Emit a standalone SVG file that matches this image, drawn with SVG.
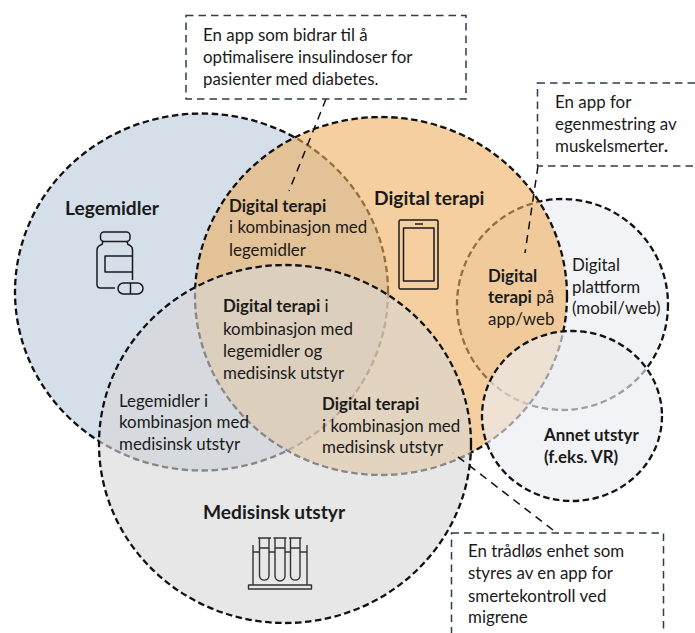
<svg xmlns="http://www.w3.org/2000/svg" width="695" height="633" viewBox="0 0 695 633">
<style>
text{font-family:"Lato","Carlito","Liberation Sans",sans-serif;font-size:16.9px;fill:#1a1a1a}
.b{font-weight:700}
.h{font-weight:700;font-size:19.2px}
.c{stroke:#111;stroke-width:2.3;stroke-dasharray:6.5 3.5}
.box{fill:none;stroke:#2e3d50;stroke-width:1.5;stroke-dasharray:7.5 5}
.ln{fill:none;stroke:#111;stroke-width:1.5;stroke-dasharray:8 6}
.i{fill:none;stroke:#1a1a1a;stroke-width:1.5;stroke-linejoin:round}
.r{fill:none;stroke:#333;stroke-width:1.4;stroke-linejoin:round}
</style>
<rect width="695" height="633" fill="#fff"/>
<g id="node-legemidler">
<ellipse class="c" cx="201.500" cy="292" rx="186.500" ry="178.500" fill="#d5dfea"/>
<text class="h" x="65" y="215">Legemidler</text>
<g class="i">
<rect x="100.500" y="232" width="29.500" height="9.500" rx="3.500"/>
<path d="M115 288H100.500Q97 288 97 284.500V250Q97 246 102 244.500L103 241.500M127 241.500L128 244.500Q132.500 246 132.500 250V280"/>
<path d="M132.500 256H105V272H132.500"/>
<rect x="118" y="283" width="25" height="11" rx="5.500"/>
<path d="M130.500 283V294"/>
</g>
</g>
<g id="node-digital-plattform">
<circle class="c" cx="562.500" cy="304.500" r="105.500" fill="#f2f3f6"/>
<text x="572" y="271">Digital</text>
<text x="572" y="293">plattform</text>
<text x="572" y="314">(mobil/web)</text>
</g>
<g id="node-digital-terapi">
<ellipse class="c" cx="381" cy="296" rx="186" ry="179" fill="rgb(238,175,95)" fill-opacity=".6"/>
<text class="h" x="374" y="205">Digital terapi</text>
<g class="i">
<rect x="399" y="220" width="39" height="69" rx="1.500"/>
<rect x="403.500" y="228" width="30.500" height="53"/>
<path d="M415 224H423"/>
</g>
</g>
<g id="node-medisinsk-utstyr">
<ellipse class="c" cx="285" cy="444" rx="186" ry="179" fill="rgb(215,215,215)" fill-opacity=".6"/>
<text class="h" x="203" y="519">Medisinsk utstyr</text>
<g class="r">
<rect x="248.500" y="585" width="63" height="4" fill="#e7e7e7"/>
<path d="M253 585V545M307 585V545M253 552H259M269 552H275M285 552H290M300 552H307"/>
<path d="M259.500 538V576A4.800 4.800 0 0 0 269 576V538M275 538V576A4.800 4.800 0 0 0 285 576V538M290.500 538V576A4.800 4.800 0 0 0 300 576V538"/>
<path d="M258 538H271M273.500 538H286.500M289 538H301.500M259.500 548H269M275 548H285M290.500 548H300"/>
</g>
</g>
<g id="node-annet-utstyr">
<ellipse class="c" cx="572" cy="416" rx="90" ry="85" fill="rgb(235,237,241)" fill-opacity=".65"/>
<text class="b" x="544" y="441">Annet utstyr</text>
<text class="b" x="544" y="463">(f.eks. VR)</text>
</g>
<g id="node-dt-legemidler">
<text class="b" x="229" y="212">Digital terapi</text>
<text x="229" y="233">i kombinasjon med</text>
<text x="229" y="256">legemidler</text>
</g>
<g id="node-dt-alle">
<text x="223" y="312"><tspan class="b">Digital terapi</tspan> i</text>
<text x="223" y="335">kombinasjon med</text>
<text x="223" y="357">legemidler og</text>
<text x="223" y="379">medisinsk utstyr</text>
</g>
<g id="node-legemidler-utstyr">
<text x="119" y="407">Legemidler i</text>
<text x="119" y="428">kombinasjon med</text>
<text x="119" y="450">medisinsk utstyr</text>
</g>
<g id="node-dt-utstyr">
<text class="b" x="322" y="410">Digital terapi</text>
<text x="322" y="432">i kombinasjon med</text>
<text x="322" y="453">medisinsk utstyr</text>
</g>
<g id="node-dt-app">
<text class="b" x="488" y="282">Digital</text>
<text x="488" y="303"><tspan class="b">terapi</tspan> på</text>
<text x="488" y="325">app/web</text>
</g>
<g id="connectors">
<path class="ln" d="M326 99L289 191"/>
<path class="ln" d="M538 166L525 253"/>
<path class="ln" d="M553 530L453 453"/>
</g>
<g id="note-insulin">
<rect class="box" x="186" y="15.500" width="280" height="83.500"/>
<text x="203" y="41">En app som bidrar til å</text>
<text x="203" y="63">optimalisere insulindoser for</text>
<text x="203" y="85">pasienter med diabetes.</text>
</g>
<g id="note-muskel">
<rect class="box" x="537.500" y="83" width="180" height="83"/>
<text x="555" y="108">En app for</text>
<text x="555" y="130">egenmestring av</text>
<text x="555" y="152">muskelsmerter<tspan class="b">.</tspan></text>
</g>
<g id="note-migrene">
<rect class="box" x="451.500" y="533" width="212" height="120"/>
<text x="468" y="557">En trådløs enhet som</text>
<text x="468" y="579">styres av en app for</text>
<text x="468" y="602">smertekontroll ved</text>
<text x="468" y="623">migrene</text>
</g>
</svg>
